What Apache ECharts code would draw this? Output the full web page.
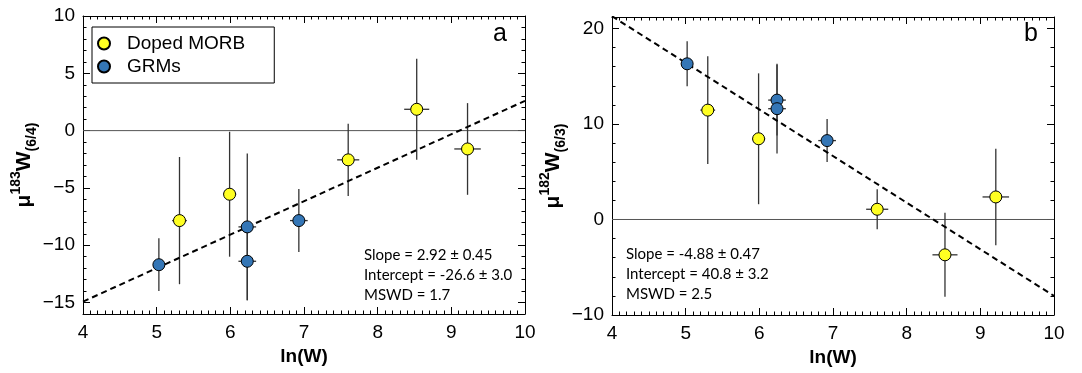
<!DOCTYPE html>
<html>
<head>
<meta charset="utf-8">
<script src="https://cdn.jsdelivr.net/npm/echarts@6/dist/echarts.min.js"></script>
<style>
html,body{margin:0;padding:0;background:#fff;}
#chart{width:1082px;height:373px;}
</style>
</head>
<body>
<div id="chart"></div>
<script>
// ---------------- data ----------------
const seriesNames = ['Doped MORB', 'GRMs'];
const xRange = [4, 10];
const xTickLabels = [4, 5, 6, 7, 8, 9, 10];

// panel a : mu183W(6/4)
const aRange = [-16, 10];
const aTickLabels = [-15, -10, -5, 0, 5, 10];
const aMorbX = [5.31, 5.99, 7.60, 8.53, 9.22];
const aMorbY = [-7.85, -5.55, -2.55, 1.86, -1.6];
const aMorbYErr = [5.55, 5.45, 3.15, 4.4, 4.0];
const aGrmX = [5.03, 6.23, 6.23, 6.93];
const aGrmY = [-11.7, -8.4, -11.4, -7.85];
const aGrmYErr = [2.3, 6.4, 3.4, 2.75];
const aFit = { slope: 2.92, intercept: -26.6 };
const aStats = ['Slope = 2.92 ± 0.45', 'Intercept = -26.6 ± 3.0', 'MSWD = 1.7'];

// panel b : mu182W(6/3)
const bRange = [-10, 21.2];
const bTickLabels = [-10, 0, 10, 20];
const bMorbX = [5.30, 5.99, 7.60, 8.52, 9.21];
const bMorbY = [11.45, 8.45, 1.07, -3.7, 2.36];
const bMorbYErr = [5.65, 6.85, 2.1, 4.4, 5.05];
const bGrmX = [5.02, 6.24, 6.24, 6.92];
const bGrmY = [16.3, 12.5, 11.6, 8.26];
const bGrmYErr = [2.35, 3.7, 4.7, 2.25];
const bFit = { slope: -4.88, intercept: 40.8 };
const bStats = ['Slope = -4.88 ± 0.47', 'Intercept = 40.8 ± 3.2', 'MSWD = 2.5'];

// x uncertainties (same samples in both panels)
const morbXErr = [0.10, 0.09, 0.15, 0.17, 0.18];
const grmXErr = [0.08, 0.12, 0.12, 0.12];

// ---------------- styling ----------------
const YELLOW = '#ffff22';
const BLUE = '#3476b6';
const FONT = '"Liberation Sans", Arial, Helvetica, sans-serif';
const minus = v => String(v).replace('-', '\u2212');

const grids = [
  { left: 83, top: 16, width: 442, height: 298 },
  { left: 612, top: 17, width: 442, height: 298 }
];

function xAxes(gi) {
  const base = {
    gridIndex: gi, type: 'value', min: xRange[0], max: xRange[1], interval: 1,
    axisLine: { show: true, onZero: false, lineStyle: { color: '#000', width: 1 } },
    axisTick: { show: true, inside: true, length: 7, lineStyle: { color: '#000' } },
    minorTick: { show: true, splitNumber: 10, length: 3.5, lineStyle: { color: '#000' } },
    splitLine: { show: false }
  };
  return [
    Object.assign({}, base, {
      position: 'bottom',
      axisLabel: { color: '#000', fontSize: 19, fontFamily: FONT, margin: 9,
        formatter: v => xTickLabels.indexOf(v) >= 0 ? String(v) : '' },
      name: 'ln(W)', nameLocation: 'middle', nameGap: 33,
      nameTextStyle: { color: '#000', fontSize: 19, fontWeight: 'bold', fontFamily: '"Liberation Sans Narrow", ' + FONT }
    }),
    Object.assign({}, base, { position: 'top', axisLabel: { show: false } })
  ];
}

function yAxes(gi, range, split, minorInterval, ticks, name, nameGap) {
  const major = {
    gridIndex: gi, type: 'value', min: range[0], max: range[1], splitNumber: split,
    axisLine: { show: true, onZero: false, lineStyle: { color: '#000', width: 1 } },
    axisTick: { show: true, inside: true, length: 7, lineStyle: { color: '#000' } },
    splitLine: { show: false }
  };
  const minor = {
    gridIndex: gi, type: 'value', min: range[0], max: range[1], interval: minorInterval,
    axisLine: { show: false, onZero: false }, axisLabel: { show: false },
    axisTick: { show: true, inside: true, length: 3.5, lineStyle: { color: '#000' } },
    splitLine: { show: false }
  };
  return [
    Object.assign({}, major, {
      position: 'left',
      axisLabel: { color: '#000', fontSize: 19, fontFamily: FONT, margin: 8,
        formatter: v => ticks.indexOf(v) >= 0 ? minus(v) : '' },
      name: name, nameLocation: 'middle', nameGap: nameGap, nameRotate: 90,
      nameTextStyle: {
        color: '#000', fontFamily: FONT, fontWeight: 'bold', fontSize: 21,
        rich: {
          mu: { fontSize: 21, fontWeight: 'bold', fontFamily: FONT, lineHeight: 30, verticalAlign: 'bottom', padding: [0, 0, 4, 0] },
          sup: { fontSize: 14, fontWeight: 'bold', fontFamily: FONT, lineHeight: 30, verticalAlign: 'top' },
          w: { fontSize: 21, fontWeight: 'bold', fontFamily: FONT, lineHeight: 30, verticalAlign: 'bottom', padding: [0, 0, 4, 0] },
          sub: { fontSize: 14, fontWeight: 'bold', fontFamily: FONT, lineHeight: 30, verticalAlign: 'bottom' }
        }
      }
    }),
    Object.assign({}, major, { position: 'right', axisLabel: { show: false } }),
    Object.assign({}, minor, { position: 'left' }),
    Object.assign({}, minor, { position: 'right' })
  ];
}

const xAxis = [].concat(xAxes(0), xAxes(1));
const yAxis = [].concat(
  yAxes(0, aRange, 5, 1, aTickLabels, '{mu|μ}{sup|183}{w|W}{sub|(6/4)}', 38),
  yAxes(1, bRange, 3, 2, bTickLabels, '{mu|μ}{sup|182}{w|W}{sub|(6/3)}', 28)
);
// x axes indices: 0,1 (grid0) 2,3 (grid1); y axes: 0..3 grid0, 4..7 grid1

function zip(xs, ys, xe, ye) {
  return xs.map((x, i) => [x, ys[i], xe[i], ye[i]]);
}

function errorSeries(xi, yi, data) {
  return {
    type: 'custom', xAxisIndex: xi, yAxisIndex: yi, z: 3, silent: true,
    data: data,
    renderItem: function (params, api) {
      const x = api.value(0), y = api.value(1), xe = api.value(2), ye = api.value(3);
      const t = api.coord([x, y + ye]);
      const b = api.coord([x, y - ye]);
      const l = api.coord([x - xe, y]);
      const r = api.coord([x + xe, y]);
      const style = { stroke: '#333', lineWidth: 1.3 };
      return {
        type: 'group',
        children: [
          { type: 'line', shape: { x1: t[0], y1: t[1], x2: b[0], y2: b[1] }, style: style },
          { type: 'line', shape: { x1: l[0], y1: l[1], x2: r[0], y2: r[1] }, style: style }
        ]
      };
    },
    clip: true
  };
}

function scatter(name, color, xi, yi, xs, ys) {
  return {
    name: name, type: 'scatter', xAxisIndex: xi, yAxisIndex: yi, z: 5,
    symbol: 'circle', symbolSize: 12,
    itemStyle: { color: color, borderColor: '#000', borderWidth: 1, opacity: 1 },
    data: xs.map((x, i) => [x, ys[i]])
  };
}

function refLines(xi, yi, fit) {
  return [
    {
      type: 'line', xAxisIndex: xi, yAxisIndex: yi, z: 1, symbol: 'none', silent: true,
      lineStyle: { color: '#555', width: 1 },
      data: [[xRange[0], 0], [xRange[1], 0]]
    },
    {
      type: 'line', xAxisIndex: xi, yAxisIndex: yi, z: 4, symbol: 'none', silent: true,
      lineStyle: { color: '#000', width: 2, type: [6, 4] },
      data: xRange.map(x => [x, fit.slope * x + fit.intercept])
    }
  ];
}

const series = [].concat(
  refLines(0, 0, aFit),
  [errorSeries(0, 0, zip(aMorbX, aMorbY, morbXErr, aMorbYErr)),
   errorSeries(0, 0, zip(aGrmX, aGrmY, grmXErr, aGrmYErr)),
   scatter(seriesNames[0], YELLOW, 0, 0, aMorbX, aMorbY),
   scatter(seriesNames[1], BLUE, 0, 0, aGrmX, aGrmY)],
  refLines(2, 4, bFit),
  [errorSeries(2, 4, zip(bMorbX, bMorbY, morbXErr, bMorbYErr)),
   errorSeries(2, 4, zip(bGrmX, bGrmY, grmXErr, bGrmYErr)),
   scatter(seriesNames[0], YELLOW, 2, 4, bMorbX, bMorbY),
   scatter(seriesNames[1], BLUE, 2, 4, bGrmX, bGrmY)]
);

function statsText(x, y, lines) {
  return {
    type: 'text', left: x, top: y, z: 10,
    style: { text: lines.join('\n'), fill: '#000', font: '15px Lato, "Open Sans", sans-serif', lineHeight: 20 }
  };
}

const option = {
  animation: false,
  backgroundColor: '#fff',
  grid: grids,
  xAxis: xAxis,
  yAxis: yAxis,
  legend: {
    data: seriesNames,
    orient: 'vertical', left: 92, top: 27,
    itemWidth: 30, itemHeight: 12, itemGap: 4,
    padding: [7, 29, 7, 5],
    borderColor: '#000', borderWidth: 1, backgroundColor: '#fff',
    textStyle: { color: '#000', fontSize: 19, fontFamily: FONT, padding: [0, 0, 0, 3] },
    selectedMode: false
  },
  graphic: [
    statsText(364, 245, aStats),
    statsText(626, 244, bStats),
    { type: 'text', left: 493, top: 22, style: { text: 'a', font: '25px "Liberation Sans", Arial, sans-serif', fill: '#000' } },
    { type: 'text', left: 1024, top: 22, style: { text: 'b', font: '25px "Liberation Sans", Arial, sans-serif', fill: '#000' } }
  ],
  series: series
};

const chart = echarts.init(document.getElementById('chart'), null, { renderer: 'canvas' });
chart.setOption(option);
</script>
</body>
</html>
